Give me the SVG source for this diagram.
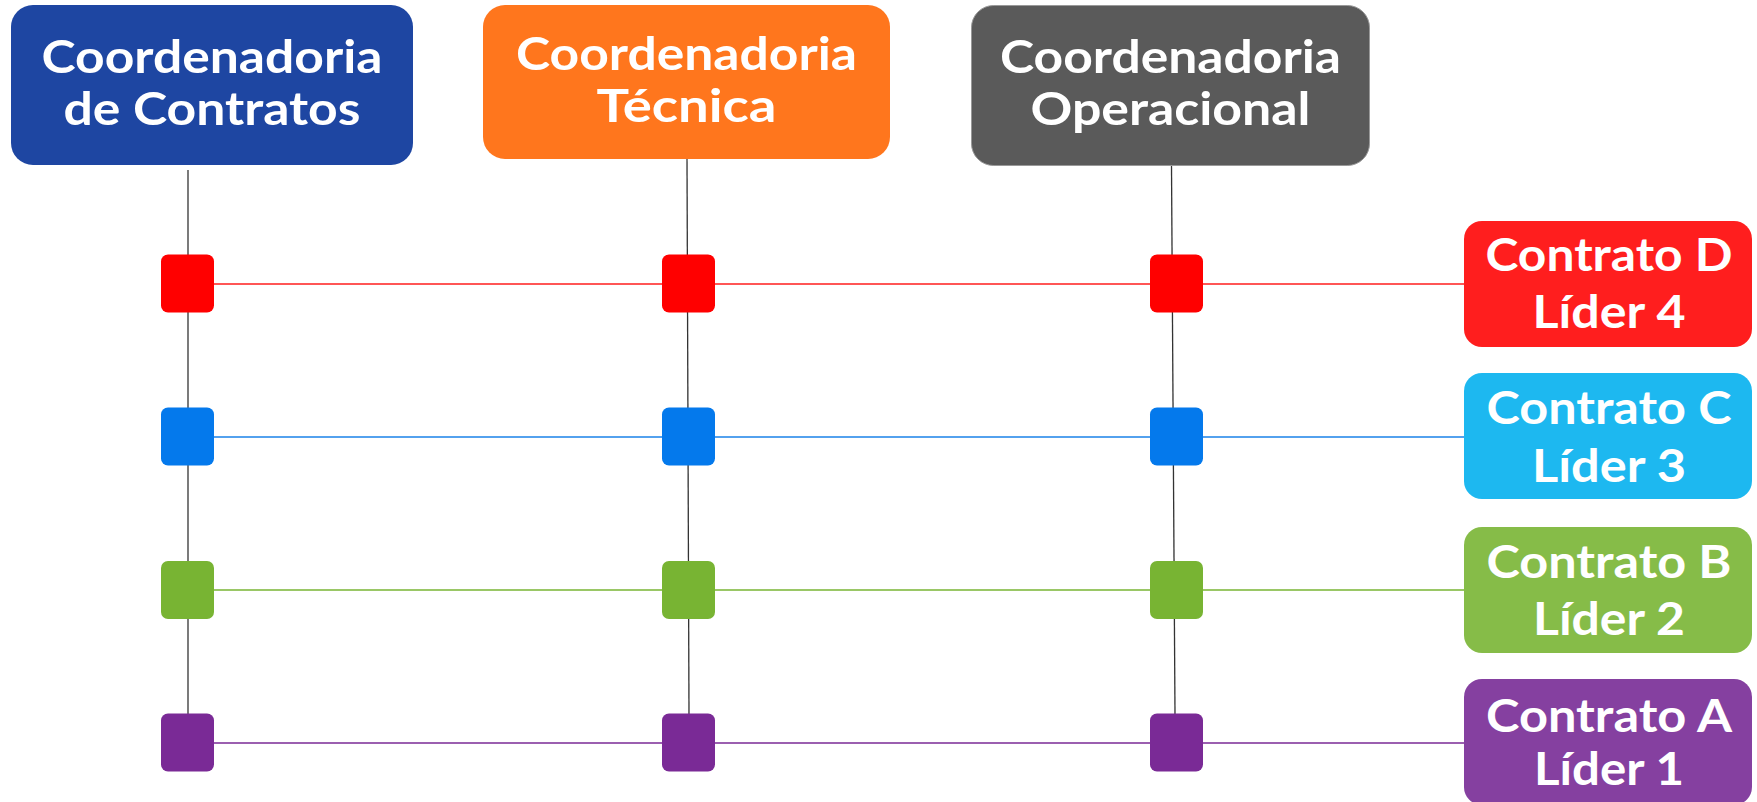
<svg xmlns="http://www.w3.org/2000/svg" width="1757" height="802" viewBox="0 0 1757 802">
<style>
.t{font-family:Lato,"Open Sans","Liberation Sans",sans-serif;font-weight:700;font-size:45px;fill:#fff;text-anchor:middle}
.v{stroke:#333;stroke-width:1.3;fill:none}
.h{stroke-width:1.6;fill:none}
</style>
<rect width="1757" height="802" fill="#fff"/>
<g id="connectors">
<line class="v" x1="188" y1="170" x2="188" y2="714"/>
<line class="v" x1="687" y1="159" x2="689" y2="714"/>
<line class="v" x1="1171.5" y1="166" x2="1175" y2="714"/>
<line class="h" x1="188" y1="284" x2="1464" y2="284" stroke="#FF1E1E"/>
<line class="h" x1="188" y1="437" x2="1464" y2="437" stroke="#1A82E8"/>
<line class="h" x1="188" y1="590" x2="1464" y2="590" stroke="#78B433"/>
<line class="h" x1="188" y1="743" x2="1464" y2="743" stroke="#7A2A96"/>
</g>
<g id="coord-contratos"><rect x="11" y="5" width="402" height="160" rx="22" fill="#1E46A2"/><text class="t" x="212" y="73" textLength="341" lengthAdjust="spacingAndGlyphs">Coordenadoria</text><text class="t" x="212" y="125" textLength="297" lengthAdjust="spacingAndGlyphs">de Contratos</text></g>
<g id="coord-tecnica"><rect x="483" y="5" width="407" height="154" rx="22" fill="#FF761D"/><text class="t" x="686.5" y="70" textLength="341" lengthAdjust="spacingAndGlyphs">Coordenadoria</text><text class="t" x="686.5" y="122" textLength="180" lengthAdjust="spacingAndGlyphs">Técnica</text></g>
<g id="coord-operacional"><rect x="971.5" y="5.5" width="398" height="160" rx="22" fill="#5A5A5A" stroke="#999" stroke-width="1"/><text class="t" x="1170.5" y="73" textLength="341" lengthAdjust="spacingAndGlyphs">Coordenadoria</text><text class="t" x="1170.5" y="125" textLength="280" lengthAdjust="spacingAndGlyphs">Operacional</text></g>
<g id="contrato-d"><rect x="1464" y="221" width="288" height="126" rx="18" fill="#FF1E1E"/><text class="t" x="1609" y="271" textLength="247" lengthAdjust="spacingAndGlyphs">Contrato D</text><text class="t" x="1609" y="328" textLength="153" lengthAdjust="spacingAndGlyphs">Líder 4</text></g>
<g id="contrato-c"><rect x="1464" y="373" width="288" height="126" rx="18" fill="#1DB8F0"/><text class="t" x="1609" y="424" textLength="245" lengthAdjust="spacingAndGlyphs">Contrato C</text><text class="t" x="1609" y="482" textLength="154" lengthAdjust="spacingAndGlyphs">Líder 3</text></g>
<g id="contrato-b"><rect x="1464" y="527" width="288" height="126" rx="18" fill="#86BC48"/><text class="t" x="1609" y="578" textLength="245" lengthAdjust="spacingAndGlyphs">Contrato B</text><text class="t" x="1609" y="635" textLength="152" lengthAdjust="spacingAndGlyphs">Líder 2</text></g>
<g id="contrato-a"><rect x="1464" y="679" width="288" height="126" rx="18" fill="#8540A0"/><text class="t" x="1609" y="732" textLength="246" lengthAdjust="spacingAndGlyphs">Contrato A</text><text class="t" x="1609" y="785" textLength="150" lengthAdjust="spacingAndGlyphs">Líder 1</text></g>
<g id="sq-d"><rect x="161" y="254.5" width="53" height="58" rx="7" fill="#FF0000"/><rect x="662" y="254.5" width="53" height="58" rx="7" fill="#FF0000"/><rect x="1150" y="254.5" width="53" height="58" rx="7" fill="#FF0000"/></g>
<g id="sq-c"><rect x="161" y="407.5" width="53" height="58" rx="7" fill="#0479EC"/><rect x="662" y="407.5" width="53" height="58" rx="7" fill="#0479EC"/><rect x="1150" y="407.5" width="53" height="58" rx="7" fill="#0479EC"/></g>
<g id="sq-b"><rect x="161" y="561" width="53" height="58" rx="7" fill="#78B433"/><rect x="662" y="561" width="53" height="58" rx="7" fill="#78B433"/><rect x="1150" y="561" width="53" height="58" rx="7" fill="#78B433"/></g>
<g id="sq-a"><rect x="161" y="713.5" width="53" height="58" rx="7" fill="#7A2A96"/><rect x="662" y="713.5" width="53" height="58" rx="7" fill="#7A2A96"/><rect x="1150" y="713.5" width="53" height="58" rx="7" fill="#7A2A96"/></g>
</svg>
